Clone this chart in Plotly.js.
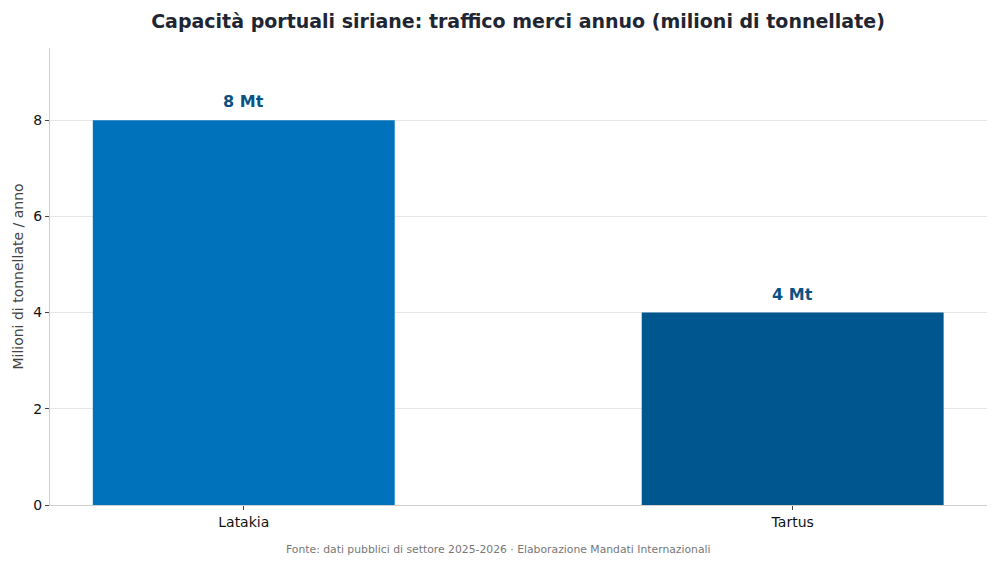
<!DOCTYPE html>
<html>
<head>
<meta charset="utf-8">
<script src="https://cdn.plot.ly/plotly-3.0.1.min.js"></script>
<style>
  html, body { margin: 0; padding: 0; background: #fff; }
  #chart { width: 1000px; height: 564px; }
</style>
</head>
<body>
<div id="chart"></div>
<script>
// Port cargo capacity (million tonnes per year)
const ports = ['Latakia', 'Tartus'];
const capacity = [8, 4];
const barLabels = ['8 Mt', '4 Mt'];
const barColors = ['#0072BB', '#00578F'];
const yTicks = [0, 2, 4, 6, 8];

const FONT = 'DejaVu Sans, Verdana, sans-serif';

const trace = {
    type: 'bar',
    x: ports,
    y: capacity,
    width: 0.55,
    marker: { color: barColors, line: { width: 0 } },
    hoverinfo: 'x+y',
    showlegend: false
};

const labelNotes = ports.map((p, i) => ({
    x: p, y: capacity[i],
    xref: 'x', yref: 'y',
    text: '<b>' + barLabels[i] + '</b>',
    showarrow: false,
    yanchor: 'bottom',
    yshift: 7,
    font: { family: FONT, size: 16, color: '#0B5283' }
}));

const layout = {
    width: 1000,
    height: 564,
    margin: { t: 48, r: 13, b: 59, l: 50 },
    paper_bgcolor: '#ffffff',
    plot_bgcolor: '#ffffff',
    font: { family: FONT, color: '#111' },
    title: {
        text: '<b>Capacità portuali siriane: traffico merci annuo (milioni di tonnellate)</b>',
        x: 0.518, xanchor: 'center',
        y: 0.962, yanchor: 'middle',
        font: { family: FONT, size: 19, color: '#1f2633' }
    },
    xaxis: {
        type: 'category',
        range: [-0.353, 1.354],
        showline: true, linecolor: '#d0d0d0', linewidth: 1,
        ticks: 'outside', ticklen: 4, tickcolor: '#444',
        showgrid: false, zeroline: false,
        tickfont: { family: FONT, size: 14, color: '#111' }
    },
    yaxis: {
        range: [0, 9.5],
        tickvals: yTicks,
        showline: true, linecolor: '#d0d0d0', linewidth: 1,
        ticks: 'outside', ticklen: 4, tickcolor: '#444',
        showgrid: true, gridcolor: '#e6e6e6', gridwidth: 1,
        zeroline: false,
        tickfont: { family: FONT, size: 14, color: '#111' },
        title: { text: 'Milioni di tonnellate / anno', standoff: 6,
                 font: { family: FONT, size: 14, color: '#444' } }
    },
    annotations: [
        ...labelNotes,
        {
            text: 'Fonte: dati pubblici di settore 2025-2026 · Elaborazione Mandati Internazionali',
            xref: 'paper', yref: 'paper',
            x: 0.479, y: -0.0,
            xanchor: 'center', yanchor: 'top',
            yshift: -36,
            showarrow: false,
            font: { family: FONT, size: 10.8, color: '#777' }
        }
    ]
};

Plotly.newPlot('chart', [trace], layout, { displayModeBar: false, staticPlot: true });
</script>
</body>
</html>
